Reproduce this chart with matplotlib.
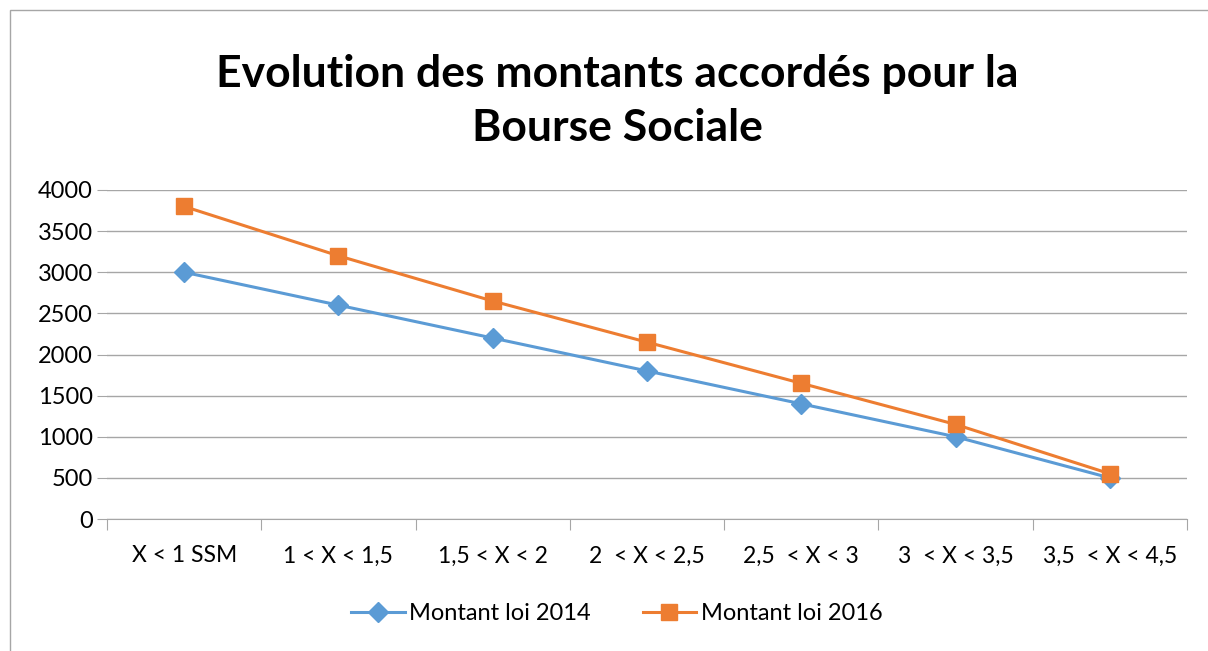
import matplotlib
matplotlib.use("Agg")
import matplotlib.pyplot as plt
from matplotlib.patches import Rectangle

categories = ["X < 1 SSM", "1 < X < 1,5", "1,5 < X < 2", "2  < X < 2,5",
              "2,5  < X < 3", "3  < X < 3,5", "3,5  < X < 4,5"]
montant_2014 = [3000, 2600, 2200, 1800, 1400, 1000, 500]
montant_2016 = [3800, 3200, 2650, 2150, 1650, 1150, 550]
y_ticks = [0, 500, 1000, 1500, 2000, 2500, 3000, 3500, 4000]

plt.rcParams['font.family'] = ['Lato', 'DejaVu Sans']

W, H = 1208, 651
fig = plt.figure(figsize=(W/100, H/100), dpi=100)
fig.patches.append(Rectangle((10/W, -0.1), 1.2, (H-10)/H + 0.1, transform=fig.transFigure,
                             fill=False, edgecolor='#A6A6A6', linewidth=1.0))

ax = fig.add_axes([107/W, 1-519/H, (1187-107)/W, (519-190)/H])
x = list(range(len(categories)))
ax.plot(x, montant_2014, color='#5B9BD5', linewidth=2.2, marker='D', markersize=10,
        label='Montant loi 2014', zorder=3)
ax.plot(x, montant_2016, color='#ED7D31', linewidth=2.2, marker='s', markersize=11.5,
        label='Montant loi 2016', zorder=4)

ax.set_xlim(-0.5, len(categories) - 0.5)
ax.set_ylim(0, 4000)
ax.set_yticks(y_ticks)
ax.set_yticklabels([str(v) for v in y_ticks], fontsize=17)
ax.grid(axis='y', color='#A6A6A6', linewidth=1.0)
ax.set_axisbelow(True)
for s in ['top', 'right', 'left']:
    ax.spines[s].set_visible(False)
ax.spines['bottom'].set_color('#A6A6A6')
ax.tick_params(axis='y', length=7, color='#A6A6A6', pad=3)
ax.set_xticks([i - 0.5 for i in range(len(categories) + 1)])
ax.set_xticklabels([])
ax.set_xticks(x, minor=True)
ax.set_xticklabels(categories, minor=True, fontsize=16.5)
ax.tick_params(axis='x', which='major', length=8, color='#A6A6A6')
ax.tick_params(axis='x', which='minor', length=0, pad=19)

fig.text(617/W, 1-101/H, "Evolution des montants accordés pour la\nBourse Sociale",
         ha='center', va='center', fontsize=32, fontweight='bold', linespacing=1.4)

fig.legend(loc='center', bbox_to_anchor=(617/W, 1-614/H), ncol=2, frameon=False,
           fontsize=17, handlelength=2.25, columnspacing=2.2, handletextpad=0.2)

fig.savefig("out.png", dpi=100)
